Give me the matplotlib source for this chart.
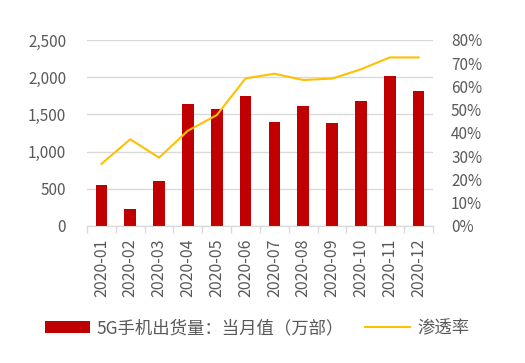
import matplotlib.pyplot as plt
import matplotlib.ticker as mticker
import numpy as np

plt.rcParams['font.family'] = ['Noto Sans CJK SC', 'DejaVu Sans']

months = ["2020-01", "2020-02", "2020-03", "2020-04", "2020-05", "2020-06",
          "2020-07", "2020-08", "2020-09", "2020-10", "2020-11", "2020-12"]
shipments = [547, 224, 609, 1635, 1572, 1751, 1393, 1613, 1390, 1676, 2016, 1815]
penetration = [26.7, 37.3, 29.4, 41.0, 47.7, 63.5, 65.5, 62.8, 63.4, 67.4, 72.5, 72.5]

BAR_COLOR = "#C00000"
LINE_COLOR = "#FFC000"
TEXT_COLOR = "#595959"
GRID_COLOR = "#D9D9D9"

fig = plt.figure(figsize=(5.25, 3.63), dpi=100)
ax = fig.add_axes([87 / 525, 1 - 226 / 363, 346 / 525, 186 / 363])
ax2 = ax.twinx()

x = np.arange(len(months))
bars = ax.bar(x, shipments, width=0.4, color=BAR_COLOR, zorder=3,
              label="5G手机出货量：当月值（万部）")
line, = ax2.plot(x, penetration, color=LINE_COLOR, linewidth=1.5,
                 label="渗透率", zorder=4)

ax.set_xlim(-0.5, len(months) - 0.5)
ax.set_ylim(0, 2500)
ax.yaxis.set_major_locator(mticker.MultipleLocator(500))
ax.yaxis.set_major_formatter(mticker.StrMethodFormatter("{x:,.0f}"))
ax.grid(axis="y", color=GRID_COLOR, linewidth=1, zorder=0)
ax.set_axisbelow(True)

ax2.set_ylim(0, 80)
ax2.yaxis.set_major_locator(mticker.MultipleLocator(10))
ax2.yaxis.set_major_formatter(mticker.FuncFormatter(lambda v, p: f"{v:.0f}%"))

for a in (ax, ax2):
    for s in ("top", "left", "right"):
        a.spines[s].set_visible(False)
    a.spines["bottom"].set_color(GRID_COLOR)
    a.tick_params(axis="y", length=0, colors=TEXT_COLOR, labelsize=11)

ax.tick_params(axis="y", pad=15)
ax2.tick_params(axis="y", pad=13)

ax.set_xticks(x)
ax.set_xticklabels(months, rotation=90, color=TEXT_COLOR, fontsize=11.5)
ax.tick_params(axis="x", length=0, pad=9)
ax.set_xticks(np.arange(-0.5, len(months)), minor=True)
ax.tick_params(axis="x", which="minor", length=5, color=GRID_COLOR, width=1)

fig.legend(handles=[bars, line], loc="center", bbox_to_anchor=(257 / 525, 1 - 328 / 363),
           ncol=2, frameon=False, fontsize=12.5, labelcolor=TEXT_COLOR,
           handlelength=2.6, handleheight=0.7, columnspacing=1.2, handletextpad=0.4)

fig.savefig("out.png", dpi=100)
